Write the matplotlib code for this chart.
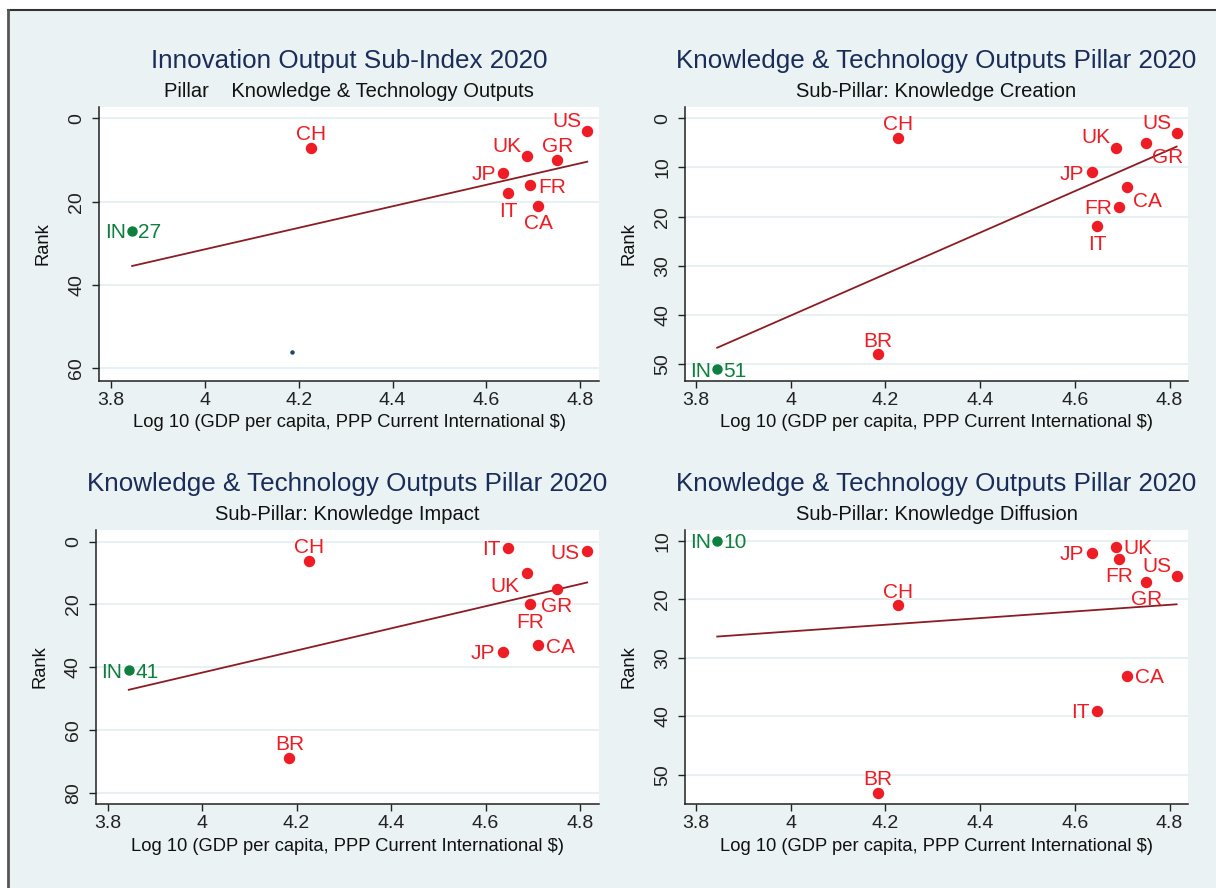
import numpy as np
import matplotlib.pyplot as plt
from matplotlib.patches import Rectangle
from matplotlib.lines import Line2D

plt.rcParams['font.family'] = ['Liberation Sans', 'DejaVu Sans']

# Country codes and log10 GDP per capita (PPP, current international $)
countries = ['IN', 'BR', 'CH', 'JP', 'IT', 'UK', 'FR', 'CA', 'GR', 'US']
log_gdp = [3.845, 4.185, 4.227, 4.636, 4.647, 4.687, 4.694, 4.711, 4.751, 4.815]

# GII 2020 ranks
rank_output = [27, 56, 7, 13, 18, 9, 16, 21, 10, 3]
rank_creation = [51, 48, 4, 11, 22, 6, 18, 14, 5, 3]
rank_impact = [41, 69, 6, 35, 2, 10, 20, 33, 15, 3]
rank_diffusion = [10, 53, 21, 12, 39, 11, 13, 33, 17, 16]

titles = ['Innovation Output Sub-Index 2020',
          'Knowledge & Technology Outputs Pillar 2020',
          'Knowledge & Technology Outputs Pillar 2020',
          'Knowledge & Technology Outputs Pillar 2020']
subtitles = ['Pillar    Knowledge & Technology Outputs',
             'Sub-Pillar: Knowledge Creation',
             'Sub-Pillar: Knowledge Impact',
             'Sub-Pillar: Knowledge Diffusion']
yticks = [[0, 20, 40, 60],
          [0, 10, 20, 30, 40, 50],
          [0, 20, 40, 60, 80],
          [10, 20, 30, 40, 50]]

# marker label positions (clock style)
label_pos = [
    {'CH': 12, 'JP': 9, 'IT': 6, 'UK': 11, 'FR': 3, 'CA': 6, 'GR': 12, 'US': 11},
    {'BR': 12, 'CH': 12, 'JP': 9, 'IT': 6, 'UK': 11, 'FR': 9, 'CA': 4, 'GR': 4, 'US': 11},
    {'BR': 12, 'CH': 12, 'JP': 9, 'IT': 9, 'UK': 8, 'FR': 6, 'CA': 3, 'GR': 6, 'US': 9},
    {'BR': 12, 'CH': 12, 'JP': 9, 'IT': 9, 'UK': 3, 'FR': 6, 'CA': 3, 'GR': 6, 'US': 11},
]
# (dx, dy of label centre in points, horizontal alignment)
clock = {12: (0, 11, 'center'), 6: (0, -11.5, 'center'),
         9: (-5.5, 0, 'right'), 3: (5.5, 0, 'left'),
         11: (-4, 8.5, 'right'), 8: (-5, -8.5, 'right'), 4: (4, -9, 'left')}

W, H = 1216, 888
boxes = [(99.3, 106.7, 599, 380.7), (685, 106.7, 1188, 380.7),
         (95.7, 530, 599, 804), (685, 530, 1188, 804)]
xlims = [(3.775, 4.840), (3.777, 4.839), (3.775, 4.840), (3.777, 4.839)]
ylims = [(62.98, -2.83), (53.36, -2.36), (83.6, -3.73), (54.96, 8.12)]

BG = '#eaf2f3'
RED = '#ee1c25'
GREEN = '#0e7f3e'
NAVY = '#1a2c58'
FS_LAB = 15
FS_TICK = 14
FS_AX = 13.2

fig = plt.figure(figsize=(W / 100, H / 100), dpi=100, facecolor='white')
fig.patches.append(Rectangle((8 / W, 0), 1, 1 - 10 / H, transform=fig.transFigure,
                             facecolor=BG, edgecolor='none', zorder=-5))
fig.lines.append(Line2D([8 / W, 1], [1 - 10 / H, 1 - 10 / H], transform=fig.transFigure,
                        color='#333333', lw=1.5, zorder=-4))
fig.lines.append(Line2D([8 / W, 8 / W], [0, 1 - 10 / H], transform=fig.transFigure,
                        color='#555555', lw=2, zorder=-4))

all_ranks = [rank_output, rank_creation, rank_impact, rank_diffusion]
x = np.array(log_gdp)

for i, ranks in enumerate(all_ranks):
    l, t, r, b = boxes[i]
    ax = fig.add_axes([l / W, 1 - b / H, (r - l) / W, (b - t) / H])
    ax.set_facecolor('white')
    y = np.array(ranks, dtype=float)

    ax.set_xlim(*xlims[i])
    ax.set_ylim(*ylims[i])
    ax.set_xticks([3.8, 4.0, 4.2, 4.4, 4.6, 4.8])
    ax.set_xticklabels(['3.8', '4', '4.2', '4.4', '4.6', '4.8'])
    ax.set_yticks(yticks[i])
    ax.set_yticklabels([str(v) for v in yticks[i]], rotation=90, va='center')
    ax.tick_params(axis='both', labelsize=FS_TICK, length=5, width=1, colors='#222222',
                   direction='out')
    ax.tick_params(axis='x', pad=3)
    ax.tick_params(axis='y', pad=5)
    ax.grid(axis='y', color='#e3edf0', lw=1.2)
    ax.set_axisbelow(True)
    for s in ['top', 'right']:
        ax.spines[s].set_visible(False)
    for s in ['left', 'bottom']:
        ax.spines[s].set_color('#222222')
        ax.spines[s].set_linewidth(1.1)

    # linear fit over all countries
    slope, icept = np.polyfit(x, y, 1)
    xs = np.array([x.min(), x.max()])
    ax.plot(xs, icept + slope * xs, color='#8c1c24', lw=1.3, zorder=2)

    for c, xv, yv in zip(countries, x, y):
        if c == 'IN':
            ax.plot(xv, yv, 'o', color=GREEN, ms=6.5, zorder=3, clip_on=False)
            for txt, (dx, ha) in [(c, (-4.5, 'right')), (str(int(yv)), (4.5, 'left'))]:
                ax.annotate(txt, (xv, yv), xytext=(dx, -0.358 * FS_LAB),
                            textcoords='offset points', ha=ha, va='baseline',
                            fontsize=FS_LAB, color=GREEN, annotation_clip=False)
        elif c not in label_pos[i]:
            ax.plot(xv, yv, 'o', color='#1a476f', ms=2.2, zorder=3)
        else:
            ax.plot(xv, yv, 'o', color=RED, ms=7.2, zorder=3, clip_on=False)
            dx, dy, ha = clock[label_pos[i][c]]
            ax.annotate(c, (xv, yv), xytext=(dx, dy - 0.358 * FS_LAB),
                        textcoords='offset points', ha=ha, va='baseline',
                        fontsize=FS_LAB, color=RED, annotation_clip=False)

    ax.set_xlabel('Log 10 (GDP per capita, PPP Current International $)',
                  fontsize=FS_AX, color='#111111', labelpad=4)
    ax.set_ylabel('Rank', fontsize=FS_AX, color='#111111', labelpad=12)

    cx = (l + r) / 2 / W
    fig.text(cx, 1 - (t - 46) / H, titles[i], ha='center', va='center',
             fontsize=18.7, color=NAVY)
    fig.text(cx, 1 - (t - 15.5) / H, subtitles[i], ha='center', va='center',
             fontsize=14.5, color='#111111')

fig.savefig('out.png', dpi=100, facecolor=fig.get_facecolor())
